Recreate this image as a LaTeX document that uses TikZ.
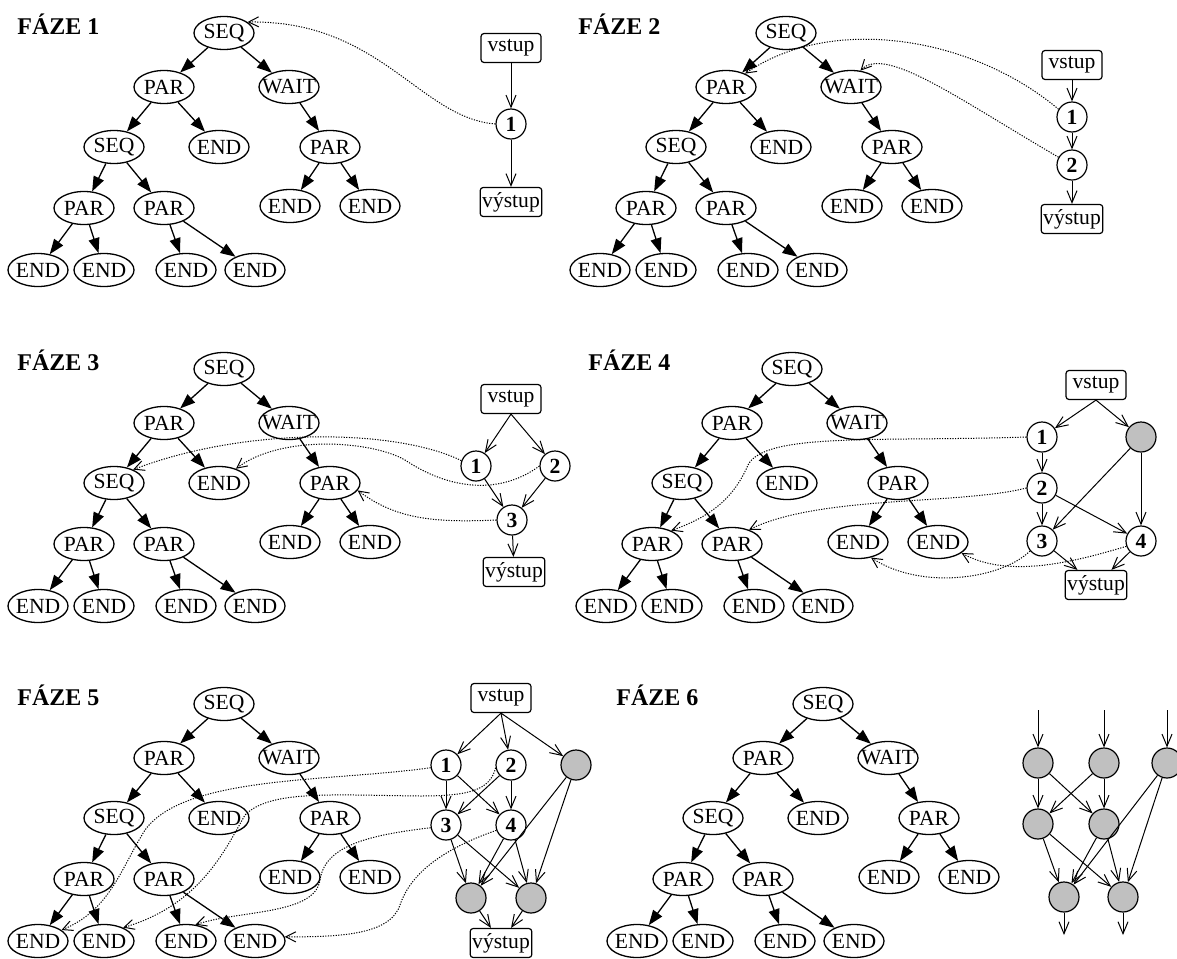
\documentclass[tikz,border=0pt]{standalone}
\usepackage{fontspec}
\setmainfont{Liberation Serif}
\usetikzlibrary{shapes.geometric, arrows.meta}
\definecolor{hotovo}{HTML}{C0C0C0}

% the same SEQ/PAR/WAIT tree in every phase, #1 = name prefix, #2 = root
\newcommand{\strom}[2]{%
  \begin{scope}[shift={#2}]
    \node[op] (#1r) at (0,0) {SEQ};
    \node[op] (#1p) at (-60,54) {PAR};
    \node[op] (#1w) at (65,54) {WAIT};
    \node[op] (#1s) at (-110,114) {SEQ};
    \node[op] (#1e) at (-5,114) {END};
    \node[op] (#1wp) at (106,114) {PAR};
    \node[op] (#1sp) at (-140,175) {PAR};
    \node[op] (#1sq) at (-60,175) {PAR};
    \node[op] (#1we) at (66,173) {END};
    \node[op] (#1wf) at (146,173) {END};
    \node[op] (#1e1) at (-186,237) {END};
    \node[op] (#1e2) at (-120,237) {END};
    \node[op] (#1e3) at (-38,237) {END};
    \node[op] (#1e4) at (31,237) {END};
  \end{scope}
  \draw[tarr] (#1r) -- (#1p);
  \draw[tarr] (#1r) -- (#1w);
  \draw[tarr] (#1p) -- (#1s);
  \draw[tarr] (#1p) -- (#1e);
  \draw[tarr] (#1w) -- (#1wp);
  \draw[tarr] (#1s) -- (#1sp);
  \draw[tarr] (#1s) -- (#1sq);
  \draw[tarr] (#1wp) -- (#1we);
  \draw[tarr] (#1wp) -- (#1wf);
  \draw[tarr] (#1sp) -- (#1e1);
  \draw[tarr] (#1sp) -- (#1e2);
  \draw[tarr] (#1sq) -- (#1e3);
  \draw[tarr] (#1sq) -- (#1e4);
}

\begin{document}
\begin{tikzpicture}[
    x=0.5pt, y=-0.5pt,
    every node/.style={font=\fontsize{10.8}{12}\selectfont},
    op/.style={ellipse, draw, line width=0.65pt, minimum width=30pt, minimum height=16.5pt, inner xsep=-4pt, inner ysep=0pt},
    task/.style={circle, draw, line width=0.6pt, minimum size=15pt, inner sep=0pt, font=\fontsize{10.8}{12}\selectfont\bfseries},
    done/.style={task, fill=hotovo},
    io/.style={draw, line width=0.6pt, rounded corners=1.5pt, minimum width=30pt, minimum height=14.5pt, inner xsep=1pt, inner ysep=0pt},
    faze/.style={font=\fontsize{12}{14}\selectfont\bfseries, inner sep=0pt, anchor=base west},
    tarr/.style={line width=0.65pt, -{Triangle[length=7.5pt,width=5.5pt]}},
    flow/.style={line width=0.5pt, -{Straight Barb[length=6pt,width=5pt]}},
    dep/.style={line width=0.5pt, dash pattern=on 0.6pt off 0.7pt, -{Straight Barb[length=5pt,width=5pt]}}
  ]
  \useasboundingbox (0,0) rectangle (1177,958);

  % phase 1
  \node[faze] (l1) at (17,34) {FÁZE 1};
  \strom{f1}{(224,33)}
  \node[io] (f1in) at (511,48) {vstup};
  \node[task] (f1n1) at (511,124) {1};
  \node[io] (f1out) at (511,202) {výstup};
  \draw[flow] (f1in) -- (f1n1);
  \draw[flow] (f1n1) -- (f1out);
  \draw[dep] (f1n1.west) .. controls (420,118) and (380,20) .. (f1r.25);

  % phase 2
  \node[faze] (l2) at (578,34) {FÁZE 2};
  \strom{f2}{(786,33)}
  \node[io] (f2in) at (1072,65) {vstup};
  \node[task] (f2n1) at (1072,117) {1};
  \node[task] (f2n2) at (1072,165) {2};
  \node[io] (f2out) at (1072,219) {výstup};
  \draw[flow] (f2in) -- (f2n1);
  \draw[flow] (f2n1) -- (f2n2);
  \draw[flow] (f2n2) -- (f2out);
  \draw[dep] (f2n1.150) .. controls (970,35) and (830,15) .. (f2p.35);
  \draw[dep] (f2n2.150) .. controls (960,100) and (885,45) .. (f2w.60);

  % phase 3
  \node[faze] (l3) at (17,370) {FÁZE 3};
  \strom{f3}{(224,369)}
  \node[io] (f3in) at (511,399) {vstup};
  \node[task] (f3n1) at (476,466) {1};
  \node[task] (f3n2) at (555,466) {2};
  \node[task] (f3n3) at (512,520) {3};
  \node[io] (f3out) at (514,572) {výstup};
  \draw[flow] (f3in.south) -- (f3n1);
  \draw[flow] (f3in.south) -- (f3n2);
  \draw[flow] (f3n1) -- (f3n3);
  \draw[flow] (f3n2) -- (f3n3);
  \draw[flow] (f3n3) -- (f3out);
  \draw[dep] (f3n1.160) .. controls (400,430) and (250,425) .. (f3s.35);
  \draw[dep] (f3n2.west) .. controls (500,495) and (450,490) .. (405,460)
    .. controls (370,440) and (280,435) .. (f3e.40);
  \draw[dep] (f3n3.west) .. controls (430,523) and (395,518) .. (f3wp.-15);

  % phase 4
  \node[faze] (l4) at (588,370) {FÁZE 4};
  \strom{f4}{(792,369)}
  \node[io] (f4in) at (1096,385) {vstup};
  \node[task] (f4n1) at (1042,437) {1};
  \node[done] (f4g) at (1141,437) {};
  \node[task] (f4n2) at (1042,488) {2};
  \node[task] (f4n3) at (1042,541) {3};
  \node[task] (f4n4) at (1141,541) {4};
  \node[io] (f4out) at (1096,585) {výstup};
  \draw[flow] (f4in.south) -- (f4n1);
  \draw[flow] (f4in.south) -- (f4g);
  \draw[flow] (f4n1) -- (f4n2);
  \draw[flow] (f4n2) -- (f4n3);
  \draw[flow] (f4n2) -- (f4n4);
  \draw[flow] (f4g) -- (f4n3);
  \draw[flow] (f4g) -- (f4n4);
  \draw[flow] (f4n3) -- (f4out);
  \draw[flow] (f4n4) -- (f4out);
  \draw[dep] (f4n1.west) .. controls (880,442) and (765,432) .. (748,465)
    .. controls (735,495) and (715,515) .. (f4sp.35);
  \draw[dep] (f4n2.west) .. controls (960,505) and (820,495) .. (f4sq.40);
  \draw[dep] (f4n3.220) .. controls (1000,580) and (920,590) .. (f4we.-50);
  \draw[dep] (f4n4.200) .. controls (1080,560) and (1010,580) .. (f4wf.-25);

  % phase 5
  \node[faze] (l5) at (17,705) {FÁZE 5};
  \strom{f5}{(224,704)}
  \node[io] (f5in) at (501,698) {vstup};
  \node[task] (f5n1) at (446,765) {1};
  \node[task] (f5n2) at (511,765) {2};
  \node[done] (f5g) at (576,765) {};
  \node[task] (f5n3) at (446,825) {3};
  \node[task] (f5n4) at (511,825) {4};
  \node[done] (f5gl) at (471,898) {};
  \node[done] (f5gr) at (531,898) {};
  \node[io] (f5out) at (501,943) {výstup};
  \draw[flow] (f5in.south) -- (f5n1);
  \draw[flow] (f5in.south) -- (f5n2);
  \draw[flow] (f5in.south) -- (f5g);
  \draw[flow] (f5n1) -- (f5n3);
  \draw[flow] (f5n1) -- (f5n4);
  \draw[flow] (f5n2) -- (f5n3);
  \draw[flow] (f5n2) -- (f5n4);
  \draw[flow] (f5n3) -- (f5gl);
  \draw[flow] (f5n3) -- (f5gr);
  \draw[flow] (f5n4) -- (f5gl);
  \draw[flow] (f5n4) -- (f5gr);
  \draw[flow] (f5g) -- (f5gl);
  \draw[flow] (f5g) -- (f5gr);
  \draw[flow] (f5gl) -- (f5out);
  \draw[flow] (f5gr) -- (f5out);
  \draw[dep] (f5n1.190) .. controls (330,782) and (185,775) .. (145,830)
    .. controls (120,870) and (110,910) .. (f5e1.25);
  \draw[dep] (f5n2.190) .. controls (490,790) and (470,796) .. (420,796)
    .. controls (330,795) and (270,790) .. (245,815)
    .. controls (225,850) and (200,905) .. (f5e2.35);
  \draw[dep] (f5n3.190) .. controls (370,835) and (325,845) .. (320,880)
    .. controls (315,915) and (240,910) .. (f5e3.60);
  \draw[dep] (f5n4.200) .. controls (440,850) and (410,875) .. (400,905)
    .. controls (390,935) and (340,937) .. (f5e4.8);

  % phase 6
  \node[faze] (l6) at (616,705) {FÁZE 6};
  \strom{f6}{(823,704)}
  \coordinate (f6i1) at (1038,710);
  \coordinate (f6i2) at (1104,710);
  \coordinate (f6i3) at (1167,710);
  \node[done] (f6t1) at (1038,763) {};
  \node[done] (f6t2) at (1104,763) {};
  \node[done] (f6t3) at (1167,763) {};
  \node[done] (f6m1) at (1038,824) {};
  \node[done] (f6m2) at (1104,824) {};
  \node[done] (f6b1) at (1064,897) {};
  \node[done] (f6b2) at (1123,897) {};
  \coordinate (f6o1) at (1064,935);
  \coordinate (f6o2) at (1123,935);
  \draw[flow] (f6i1) -- (f6t1);
  \draw[flow] (f6i2) -- (f6t2);
  \draw[flow] (f6i3) -- (f6t3);
  \draw[flow] (f6t1) -- (f6m1);
  \draw[flow] (f6t1) -- (f6m2);
  \draw[flow] (f6t2) -- (f6m1);
  \draw[flow] (f6t2) -- (f6m2);
  \draw[flow] (f6t3) -- (f6b1);
  \draw[flow] (f6t3) -- (f6b2);
  \draw[flow] (f6m1) -- (f6b1);
  \draw[flow] (f6m1) -- (f6b2);
  \draw[flow] (f6m2) -- (f6b1);
  \draw[flow] (f6m2) -- (f6b2);
  \draw[flow] (f6b1) -- (f6o1);
  \draw[flow] (f6b2) -- (f6o2);
\end{tikzpicture}
\end{document}
